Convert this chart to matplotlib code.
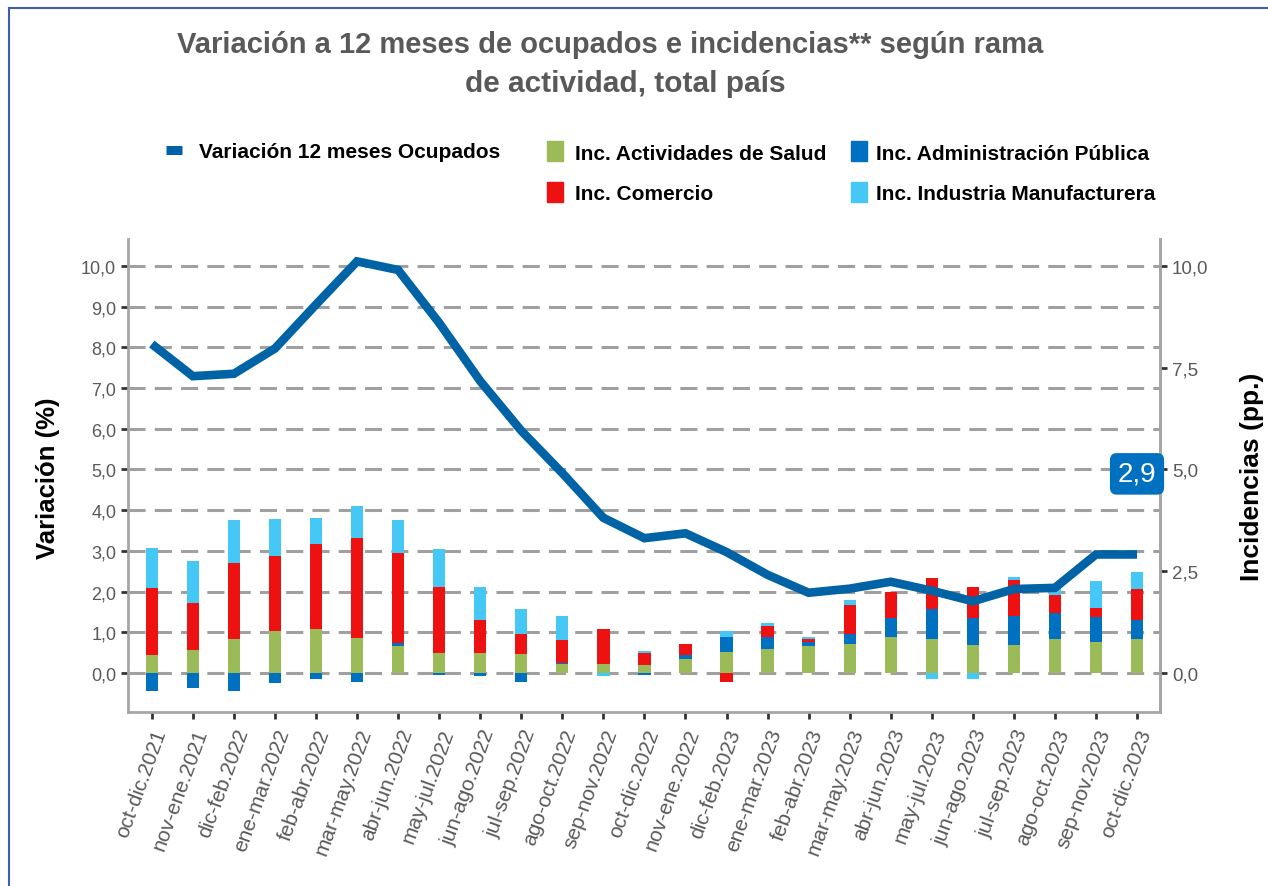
import matplotlib
matplotlib.use("Agg")
import matplotlib.pyplot as plt
import numpy as np
from matplotlib.lines import Line2D
from matplotlib.patches import Patch, Rectangle
from matplotlib.legend_handler import HandlerPatch

plt.rcParams['font.family'] = ['Liberation Sans', 'DejaVu Sans']

# ---------------- data ----------------
periods = ["oct-dic.2021", "nov-ene.2021", "dic-feb.2022", "ene-mar.2022", "feb-abr.2022",
           "mar-may.2022", "abr-jun.2022", "may-jul.2022", "jun-ago.2022", "jul-sep.2022",
           "ago-oct.2022", "sep-nov.2022", "oct-dic.2022", "nov-ene.2022", "dic-feb.2023",
           "ene-mar.2023", "feb-abr.2023", "mar-may.2023", "abr-jun.2023", "may-jul.2023",
           "jun-ago.2023", "jul-sep.2023", "ago-oct.2023", "sep-nov.2023", "oct-dic.2023"]

ocupados = [8.08, 7.29, 7.35, 7.97, 9.05, 10.11, 9.90, 8.60, 7.17, 5.95,
            4.91, 3.81, 3.31, 3.43, 2.97, 2.41, 1.97, 2.07, 2.24, 2.02,
            1.76, 2.06, 2.09, 2.91, 2.91]

inc_salud = [0.45, 0.57, 0.84, 1.02, 1.07, 0.87, 0.67, 0.50, 0.50, 0.47,
             0.21, 0.23, 0.20, 0.34, 0.52, 0.59, 0.66, 0.70, 0.89, 0.83,
             0.69, 0.68, 0.83, 0.75, 0.83]
inc_admin = [-0.45, -0.38, -0.45, -0.24, -0.16, -0.23, 0.06, -0.06, -0.07, -0.22,
             0.04, 0.00, -0.04, 0.10, 0.37, 0.30, 0.10, 0.26, 0.47, 0.74,
             0.65, 0.71, 0.65, 0.62, 0.46]
inc_comercio = [1.64, 1.15, 1.87, 1.86, 2.09, 2.45, 2.21, 1.61, 0.79, 0.49,
                0.57, 0.84, 0.28, 0.27, -0.23, 0.26, 0.07, 0.70, 0.62, 0.76,
                0.77, 0.90, 0.44, 0.22, 0.77]
inc_industria = [0.98, 1.02, 1.04, 0.90, 0.64, 0.79, 0.82, 0.94, 0.82, 0.61,
                 0.57, -0.08, 0.07, 0.00, 0.14, 0.08, 0.06, 0.12, 0.00, -0.15,
                 -0.15, 0.06, 0.23, 0.68, 0.41]

left_ticks = [0, 1, 2, 3, 4, 5, 6, 7, 8, 9, 10]
right_ticks = [0, 2.5, 5, 7.5, 10]
last_label = "2,9"

series = [("Inc. Actividades de Salud", inc_salud, "#9BBB59"),
          ("Inc. Administración Pública", inc_admin, "#0070C0"),
          ("Inc. Comercio", inc_comercio, "#EE1111"),
          ("Inc. Industria Manufacturera", inc_industria, "#45C8F5")]
line_color = "#0063A6"
text_gray = "#595959"

W, H = 1268, 887
fig = plt.figure(figsize=(W / 100, H / 100), dpi=100)

def fx(px):
    return px / W

def fy(py):
    return 1 - py / H

ax = fig.add_axes([fx(128), fy(713), fx(1160) - fx(128), fy(240) - fy(713)])
x = np.arange(len(periods))

# stacked bars (positive and negative stacks separately)
pos = np.zeros(len(x))
neg = np.zeros(len(x))
for name, vals, col in series:
    v = np.array(vals, dtype=float)
    bottoms = np.where(v >= 0, pos, neg)
    ax.bar(x, v, width=0.30, bottom=bottoms, color=col, zorder=3, linewidth=0)
    pos = pos + np.where(v >= 0, v, 0)
    neg = neg + np.where(v < 0, v, 0)

ax.plot(x, ocupados, color=line_color, lw=6.2, zorder=4, solid_joinstyle='miter',
        solid_capstyle='butt')

ax.set_xlim(-0.58, 24.56)
ax.set_ylim(-0.96, 10.66)
ax.set_yticks(left_ticks)
ax.set_yticklabels([f"{t:.1f}".replace(".", ",") for t in left_ticks])
ax.set_xticks(x)
ax.set_xticklabels(periods, rotation=70, ha='right', rotation_mode='anchor')
ax.grid(axis='y', color="#A0A0A0", linewidth=2.2, linestyle=(0, (5.6, 3.0)), zorder=1)
ax.set_axisbelow(True)

ax.spines['top'].set_visible(False)
for s in ['left', 'bottom', 'right']:
    ax.spines[s].set_color("#A6A6A6")
    ax.spines[s].set_linewidth(2)
ax.tick_params(axis='both', colors="#333333", length=5, width=2, labelsize=13,
               labelcolor=text_gray)
ax.tick_params(axis='x', pad=5, labelsize=15)

ax2 = ax.twinx()
ax2.set_ylim(ax.get_ylim())
ax2.set_yticks(right_ticks)
ax2.set_yticklabels([f"{t:.1f}".replace(".", ",") for t in right_ticks])
for s in ['top', 'left', 'bottom']:
    ax2.spines[s].set_visible(False)
ax2.spines['right'].set_color("#A6A6A6")
ax2.spines['right'].set_linewidth(2)
ax2.tick_params(axis='y', colors="#333333", length=5, width=2, labelsize=13.5,
                labelcolor=text_gray)

# last value callout
ax2.text(x[-1], 4.89, last_label, color='white', fontsize=20, ha='center', va='center',
         zorder=10, clip_on=False,
         bbox=dict(boxstyle='round,pad=0.28,rounding_size=0.25', fc="#0070C0", ec='none'))

# axis titles
fig.text(fx(48), fy(478), "Variación (%)", rotation=90, ha='center', va='center',
         fontsize=18.5, fontweight='bold', color='black')
fig.text(fx(1252), fy(477), "Incidencias (pp.)", rotation=90, ha='center', va='center',
         fontsize=19, fontweight='bold', color='black')

# title
fig.text(fx(610), fy(45), "Variación a 12 meses de ocupados e incidencias** según rama",
         ha='center', va='center', fontsize=21, fontweight='bold', color=text_gray)
fig.text(fx(625), fy(84), "de actividad, total país",
         ha='center', va='center', fontsize=21.5, fontweight='bold', color=text_gray)

# legends
leg_fs = 15

def make_rect(legend, orig_handle, xdescent, ydescent, width, height, fontsize):
    return Rectangle((-xdescent, -ydescent - 0.1 * height), width, height * 1.2)

hm = {Patch: HandlerPatch(patch_func=make_rect)}
common = dict(frameon=False, borderpad=0, borderaxespad=0,
              prop={'weight': 'bold', 'size': leg_fs}, labelspacing=1.0)

l1 = fig.legend([Line2D([0], [0], color=line_color, lw=6.5, solid_capstyle='butt')],
                ["Variación 12 meses Ocupados"], loc='center left',
                bbox_to_anchor=(fx(166), fy(153)), handlelength=0.75, handletextpad=0.85,
                **common)
l2 = fig.legend([Patch(color=series[0][2]), Patch(color=series[2][2])],
                [series[0][0], series[2][0]], loc='center left',
                bbox_to_anchor=(fx(547), fy(174)), handlelength=0.75, handletextpad=0.6,
                handleheight=0.85, handler_map=hm, **common)
l3 = fig.legend([Patch(color=series[1][2]), Patch(color=series[3][2])],
                [series[1][0], series[3][0]], loc='center left',
                bbox_to_anchor=(fx(851), fy(174)), handlelength=0.75, handletextpad=0.45,
                handleheight=0.85, handler_map=hm, **common)

# outer frame lines (top and left)
fig.add_artist(Line2D([fx(9), 1], [fy(9), fy(9)], color="#3F5FA8", lw=1.5))
fig.add_artist(Line2D([fx(9), fx(9)], [fy(9), 0], color="#3F5FA8", lw=1.5))

fig.savefig("out.png", dpi=100)
